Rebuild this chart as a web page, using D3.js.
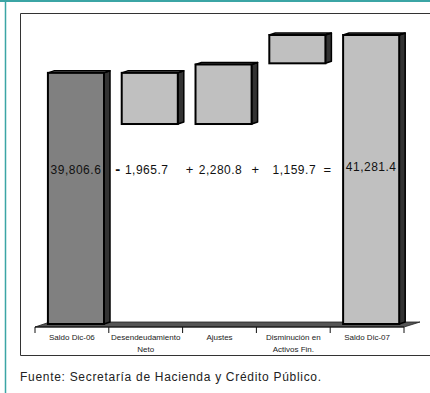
<!DOCTYPE html>
<html>
<head>
<meta charset="utf-8">
<script src="https://cdn.jsdelivr.net/npm/d3@7"></script>
<style>
    body { margin: 0; background: #fff; }
    svg { display: block; font-family: Arial, "Liberation Sans", sans-serif; }
</style>
</head>
<body>
<div id="chart"></div>
<script>
// categories (two-line labels)
const categories = ["Saldo Dic-06", "Desendeudamiento Neto", "Ajustes", "Disminución en Activos Fin.", "Saldo Dic-07"];
const categoryLines = [["Saldo Dic-06"], ["Desendeudamiento", "Neto"], ["Ajustes"], ["Disminución en", "Activos Fin."], ["Saldo Dic-07"]];

// bar extents as drawn in the picture (chart units, 0 = floor)
const barBase = [0, 69.2, 69.2, 90.2, 0];
const barTop = [86.9, 86.9, 89.8, 100, 100];
const barKind = ["total", "step", "step", "step", "total"];

// value labels and the operators between them
const valueLabels = ["39,806.6", "1,965.7", "2,280.8", "1,159.7", "41,281.4"];
const operators = ["", "-", "+", "+", "="];

const width = 430, height = 393;

const svg = d3.select("#chart").append("svg")
    .attr("width", width)
    .attr("height", height);

// outer teal frame
svg.append("line").attr("x1", 0).attr("x2", width).attr("y1", 1).attr("y2", 1)
    .attr("stroke", "#3ba5a5").attr("stroke-width", 2);
svg.append("line").attr("x1", 5.5).attr("x2", 5.5).attr("y1", 0).attr("y2", height)
    .attr("stroke", "#3ba5a5").attr("stroke-width", 1.5);

// chart box
svg.append("path")
    .attr("d", `M${width + 2},13.5 H20.5 V355.5 H${width + 2}`)
    .attr("fill", "none")
    .attr("stroke", "#333")
    .attr("stroke-width", 1);

const x = d3.scaleBand()
    .domain(categories)
    .range([35, 404])
    .padding(0);

const y = d3.scaleLinear()
    .domain([0, 100])
    .range([324, 35]);

const bw = x.bandwidth();
const barW = bw * 0.76;
const dx = 6, dy = 2;
const barX = d => x(d) + bw * 0.175;

// floor
const floorY = y(0);
svg.append("polygon")
    .attr("points", [[35, floorY + 3], [404, floorY + 3], [420, floorY - 2], [50, floorY - 2]].join(" "))
    .attr("fill", "#555")
    .attr("stroke", "#222")
    .attr("stroke-width", 0.8);

// axis with ticks at band edges
const axisG = svg.append("g").attr("transform", `translate(0,${floorY + 3})`);
axisG.append("line").attr("x1", 35).attr("x2", 404).attr("stroke", "#111").attr("stroke-width", 1);
axisG.selectAll(".tick")
    .data(categories.concat([null]))
    .join("line")
    .attr("class", "tick")
    .attr("x1", (d, i) => i < categories.length ? x(d) : x(categories[i - 1]) + bw)
    .attr("x2", (d, i) => i < categories.length ? x(d) : x(categories[i - 1]) + bw)
    .attr("y1", 0).attr("y2", 6)
    .attr("stroke", "#111");

// bars
const bars = svg.append("g").selectAll("g.bar")
    .data(categories)
    .join("g")
    .attr("class", "bar");

bars.append("polygon")
    .attr("points", (d, i) => {
        const x0 = barX(d) + barW, yt = y(barTop[i]), yb = y(barBase[i]);
        return [[x0, yt], [x0 + dx, yt - dy], [x0 + dx, yb - dy], [x0, yb]].join(" ");
    })
    .attr("fill", "#333")
    .attr("stroke", "#000")
    .attr("stroke-width", 1.5)
    .attr("stroke-linejoin", "round");

bars.append("polygon")
    .attr("points", (d, i) => {
        const x0 = barX(d), yt = y(barTop[i]);
        return [[x0, yt], [x0 + dx, yt - dy], [x0 + barW + dx, yt - dy], [x0 + barW, yt]].join(" ");
    })
    .attr("fill", "#777")
    .attr("stroke", "#000")
    .attr("stroke-width", 1.5)
    .attr("stroke-linejoin", "round");

bars.append("rect")
    .attr("x", d => barX(d))
    .attr("y", (d, i) => y(barTop[i]))
    .attr("width", barW)
    .attr("height", (d, i) => y(barBase[i]) - y(barTop[i]))
    .attr("fill", (d, i) => i === 0 ? "#808080" : "#c0c0c0")
    .attr("stroke", "#000")
    .attr("stroke-width", 2);

// value labels
const opOffset = [0, 9, 7, -1, -3];
svg.append("g").selectAll("text.val")
    .data(categories)
    .join("text")
    .attr("class", "val")
    .attr("x", (d, i) => barKind[i] === "total" ? barX(d) + barW / 2 : x(d) + bw / 2 + 1)
    .attr("y", (d, i) => i === 4 ? 171 : 174)
    .attr("text-anchor", "middle")
    .attr("font-size", 12)
    .attr("letter-spacing", 0.5)
    .attr("fill", "#111")
    .text((d, i) => valueLabels[i]);

svg.append("g").selectAll("text.op")
    .data(categories)
    .join("text")
    .attr("class", "op")
    .attr("x", (d, i) => x(d) + opOffset[i])
    .attr("y", 174)
    .attr("text-anchor", "middle")
    .attr("font-size", (d, i) => operators[i] === "-" ? 15 : 13)
    .attr("font-weight", (d, i) => operators[i] === "-" ? "bold" : "normal")
    .attr("fill", "#111")
    .text((d, i) => operators[i]);

// category labels
const catG = svg.append("g").selectAll("text.cat")
    .data(categories)
    .join("text")
    .attr("class", "cat")
    .attr("text-anchor", "middle")
    .attr("font-size", 8)
    .attr("fill", "#222");

catG.selectAll("tspan")
    .data((d, i) => categoryLines[i].map(t => ({ t, c: d })))
    .join("tspan")
    .attr("x", d => x(d.c) + bw / 2)
    .attr("y", (d, j) => 339.5 + j * 12)
    .text(d => d.t);

// source note
svg.append("text")
    .attr("x", 20)
    .attr("y", 381)
    .attr("font-size", 12)
    .attr("letter-spacing", 0.7)
    .attr("fill", "#222")
    .text("Fuente: Secretaría de Hacienda y Crédito Público.");
</script>
</body>
</html>
